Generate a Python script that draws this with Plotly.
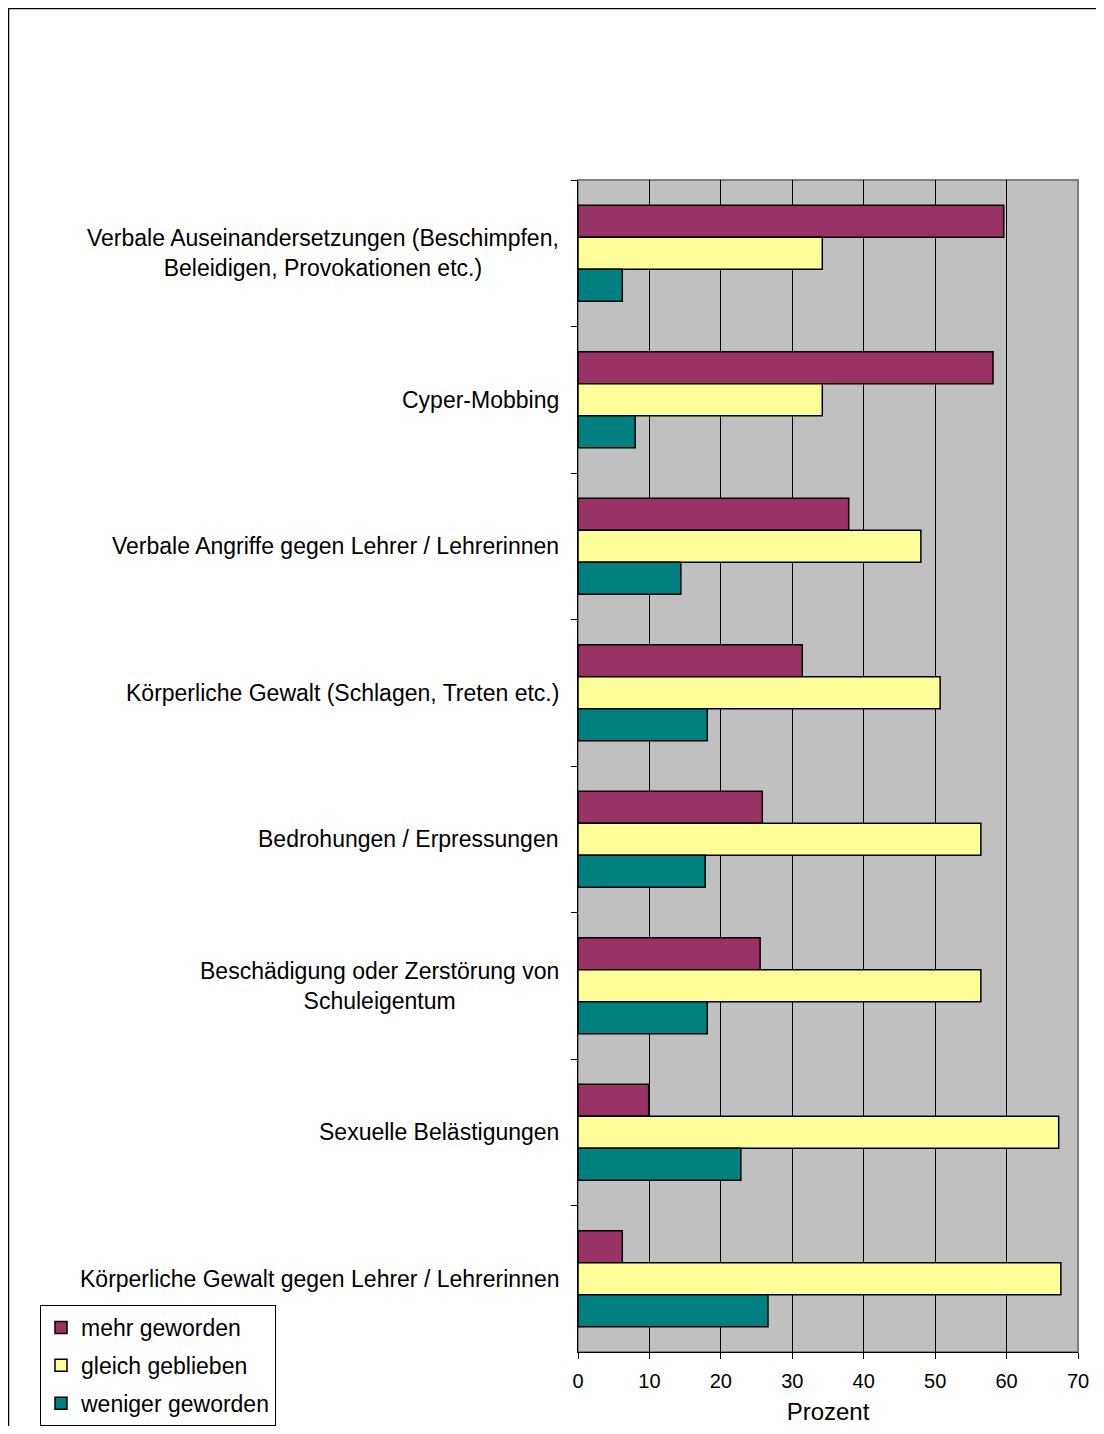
import plotly.graph_objects as go

categories = [
    "Verbale Auseinandersetzungen (Beschimpfen,<br>Beleidigen, Provokationen etc.)",
    "Cyper-Mobbing",
    "Verbale Angriffe gegen Lehrer / Lehrerinnen",
    "Körperliche Gewalt (Schlagen, Treten etc.)",
    "Bedrohungen / Erpressungen",
    "Beschädigung oder Zerstörung von<br>Schuleigentum",
    "Sexuelle Belästigungen",
    "Körperliche Gewalt gegen Lehrer / Lehrerinnen",
]
mehr = [59.6, 58.1, 37.9, 31.4, 25.8, 25.5, 9.9, 6.2]
gleich = [34.2, 34.2, 48.0, 50.7, 56.4, 56.4, 67.3, 67.6]
weniger = [6.2, 8.0, 14.4, 18.1, 17.8, 18.1, 22.8, 26.6]
series_names = ["mehr geworden", "gleich geblieben", "weniger geworden"]
colors = ["#993366", "#FFFF99", "#008080"]
x_ticks = [0, 10, 20, 30, 40, 50, 60, 70]

FONT = "Liberation Sans, Arial, sans-serif"
OFF = 8  # page body margin
W, H = 1104 - 2 * OFF, 1434 - 2 * OFF
# plot area in page pixels: x 578..1078, y 180..1352
L = 578 - OFF
R = W - (1078 - OFF)
T = 180 - OFF
B = H - (1352 - OFF)
pw = W - L - R
ph = H - T - B


def px_x(p):
    return (p - OFF - L) / pw


def px_y(p):
    return (H - B - (p - OFF)) / ph


fig = go.Figure()
for name, vals, col in zip(series_names, [mehr, gleich, weniger], colors):
    fig.add_trace(go.Bar(
        y=categories, x=vals, orientation="h", name=name,
        marker=dict(color=col, line=dict(color="black", width=1.5)),
        legendgroup=name,
    ))

for c in categories:
    fig.add_annotation(
        x=0, xref="paper", y=c, yref="y", text=c, showarrow=False,
        xanchor="right", yanchor="middle", align="center", xshift=-17,
        font=dict(family=FONT, size=23, color="black"),
    )

# outer chart border
fig.add_shape(type="rect", xref="paper", yref="paper",
              x0=px_x(OFF + 0.5), x1=px_x(1130), y0=px_y(1460), y1=px_y(OFF + 0.5),
              line=dict(color="black", width=1.5), fillcolor="rgba(0,0,0,0)", layer="above")
# plot area border (grey)
fig.add_shape(type="rect", xref="paper", yref="paper",
              x0=0, x1=1, y0=0, y1=1,
              line=dict(color="#808080", width=2), fillcolor="rgba(0,0,0,0)", layer="below")

fig.update_layout(
    width=W, height=H,
    margin=dict(l=L, r=R, t=T, b=B, pad=0, autoexpand=False),
    paper_bgcolor="white", plot_bgcolor="#C0C0C0",
    barmode="group", bargap=0.345, bargroupgap=0,
    font=dict(family=FONT, size=20, color="black"),
    showlegend=True,
    legend=dict(
        xref="container", yref="container",
        x=(40 - OFF) / W, y=1 - (1305 - OFF) / H, xanchor="left", yanchor="top",
        bgcolor="white", bordercolor="black", borderwidth=1,
        font=dict(family=FONT, size=23, color="black"),
        traceorder="grouped", tracegroupgap=5,
        itemwidth=30,
    ),
    xaxis=dict(
        range=[0, 70], tickvals=x_ticks, ticktext=[str(v) for v in x_ticks],
        showgrid=True, gridcolor="black", gridwidth=1,
        ticks="outside", ticklen=6, tickcolor="black",
        ticklabelstandoff=5,
        showline=True, linecolor="black", linewidth=1,
        tickfont=dict(family=FONT, size=20),
        title=dict(text="Prozent", font=dict(family=FONT, size=24), standoff=12),
        zeroline=False,
    ),
    yaxis=dict(
        autorange="reversed", type="category",
        showticklabels=False, ticks="outside", ticklen=6, tickcolor="black",
        tickson="boundaries", showline=True, linecolor="black", linewidth=1,
        showgrid=False,
    ),
)

fig.write_html("out.html")
